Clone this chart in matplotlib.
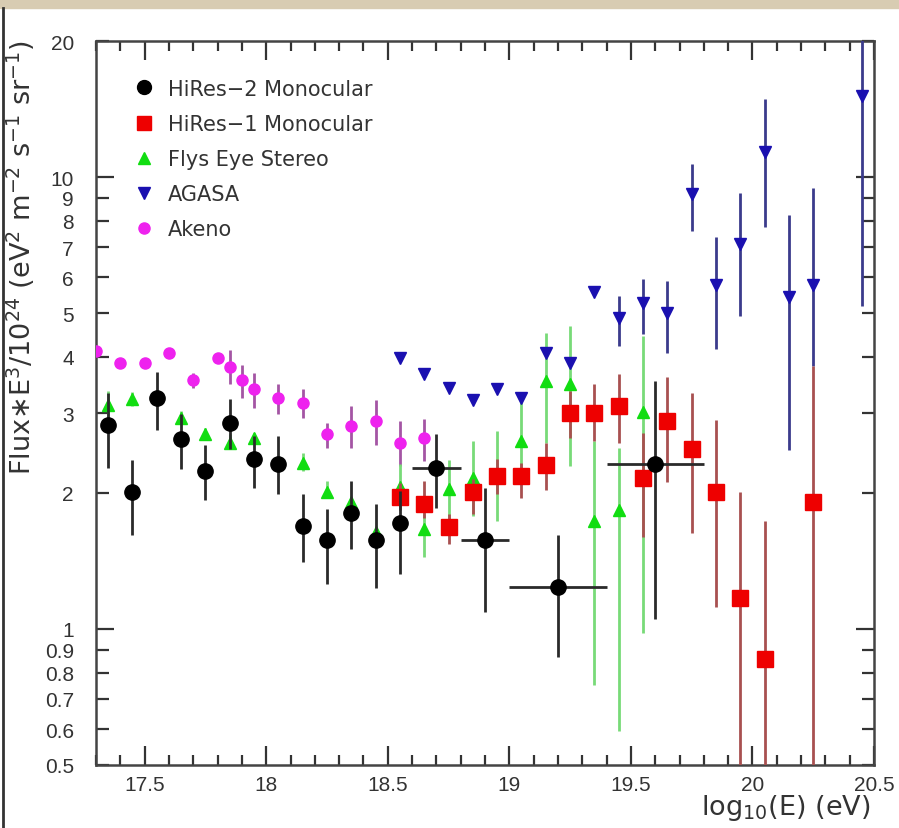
import matplotlib
matplotlib.use("Agg")
import matplotlib.pyplot as plt
from matplotlib.lines import Line2D
from matplotlib.patches import Rectangle
from matplotlib.ticker import FixedLocator, FixedFormatter
import numpy as np

# ---------------- data ----------------
hires2_x = [17.35, 17.45, 17.55, 17.65, 17.75, 17.85, 17.95, 18.05, 18.15, 18.25, 18.35, 18.45, 18.55,
            18.70, 18.90, 19.20, 19.60]
hires2_y = [2.83, 2.01, 3.24, 2.63, 2.24, 2.86, 2.38, 2.32, 1.69, 1.57, 1.81, 1.57, 1.72,
            2.27, 1.57, 1.24, 2.32]
hires2_lo = [2.27, 1.61, 2.76, 2.26, 1.93, 2.50, 2.05, 1.99, 1.41, 1.26, 1.50, 1.23, 1.32,
             1.85, 1.09, 0.867, 1.05]
hires2_hi = [3.33, 2.37, 3.70, 2.99, 2.55, 3.23, 2.67, 2.67, 1.99, 1.84, 2.12, 1.89, 2.02,
             2.70, 2.05, 1.61, 3.54]
hires2_xerr = [0, 0, 0, 0, 0, 0, 0, 0, 0, 0, 0, 0, 0, 0.1, 0.1, 0.2, 0.2]

hires1_x = [18.55, 18.65, 18.75, 18.85, 18.95, 19.05, 19.15, 19.25, 19.35, 19.45, 19.55, 19.65,
            19.75, 19.85, 19.95, 20.05, 20.25]
hires1_y = [1.96, 1.89, 1.68, 2.01, 2.18, 2.18, 2.30, 3.00, 3.00, 3.11, 2.16, 2.89,
            2.50, 2.01, 1.17, 0.86, 1.905]
hires1_lo = [1.83, 1.76, 1.54, 1.80, 1.99, 1.95, 2.03, 2.65, 2.61, 2.58, 1.60, 2.11,
             1.63, 1.12, 0.30, 0.30, 0.30]
hires1_hi = [2.10, 2.13, 1.80, 2.15, 2.38, 2.33, 2.58, 3.36, 3.48, 3.66, 2.72, 3.61,
             3.32, 2.90, 2.01, 1.73, 3.82]

flys_x = [17.35, 17.45, 17.65, 17.75, 17.85, 17.95, 18.15, 18.25, 18.35, 18.45, 18.55, 18.65,
          18.75, 18.85, 18.95, 19.05, 19.15, 19.25, 19.35, 19.45, 19.55]
flys_y = [3.13, 3.23, 2.93, 2.70, 2.58, 2.64, 2.33, 2.01, 1.91, 1.64, 2.06, 1.66,
          2.04, 2.16, 2.18, 2.61, 3.54, 3.48, 1.73, 1.83, 3.02]
flys_lo = [2.92, 3.12, 2.84, 2.62, 2.52, 2.56, 2.24, 1.95, 1.87, 1.61, 1.87, 1.44,
           1.65, 1.78, 1.73, 2.09, 2.58, 2.29, 0.75, 0.595, 0.98]
flys_hi = [3.36, 3.35, 3.04, 2.78, 2.70, 2.72, 2.45, 2.12, 1.95, 1.68, 2.32, 1.80,
           2.37, 2.60, 2.74, 3.25, 4.52, 4.67, 2.60, 2.51, 4.45]

agasa_x = [18.55, 18.65, 18.75, 18.85, 18.95, 19.05, 19.15, 19.25, 19.35, 19.45, 19.55, 19.65,
           19.75, 19.85, 19.95, 20.05, 20.15, 20.25, 20.45]
agasa_y = [3.97, 3.67, 3.41, 3.21, 3.39, 3.25, 4.09, 3.88, 5.57, 4.88, 5.27, 5.01,
           9.19, 5.77, 7.12, 11.36, 5.43, 5.78, 15.1]
agasa_lo = [3.97, 3.67, 3.41, 3.21, 3.39, 3.25, 4.09, 3.88, 5.57, 4.23, 4.49, 4.09,
            7.60, 4.17, 4.93, 7.77, 2.49, 3.82, 5.18]
agasa_hi = [3.97, 3.67, 3.41, 3.21, 3.39, 3.25, 4.09, 3.88, 5.57, 5.46, 5.95, 5.89,
            10.7, 7.38, 9.24, 14.9, 8.25, 9.44, 30.0]

akeno_x = [17.30, 17.40, 17.50, 17.60, 17.70, 17.80, 17.85, 17.90, 17.95, 18.05, 18.15, 18.25,
           18.35, 18.45, 18.55, 18.65]
akeno_y = [4.12, 3.88, 3.88, 4.07, 3.55, 3.97, 3.80, 3.55, 3.39, 3.24, 3.17, 2.70,
           2.81, 2.88, 2.58, 2.64]
akeno_lo = [4.12, 3.88, 3.88, 4.07, 3.41, 3.97, 3.48, 3.25, 3.08, 2.99, 2.93, 2.52,
            2.52, 2.55, 2.29, 2.35]
akeno_hi = [4.12, 3.88, 3.88, 4.07, 3.69, 3.97, 4.14, 3.84, 3.69, 3.49, 3.40, 2.86,
            3.11, 3.21, 2.89, 2.92]

labels = ["HiRes\u22122 Monocular", "HiRes\u22121 Monocular", "Flys Eye Stereo", "AGASA", "Akeno"]

y_major = [1, 10]
y_minor = [0.5, 0.6, 0.7, 0.8, 0.9, 2, 3, 4, 5, 6, 7, 8, 9, 20]
x_major = [17.5, 18.0, 18.5, 19.0, 19.5, 20.0, 20.5]
x_major_labels = ["17.5", "18", "18.5", "19", "19.5", "20", "20.5"]

# ---------------- figure ----------------
fig = plt.figure(figsize=(8.99, 8.29), dpi=100)
ax = fig.add_axes([96 / 899, 1 - 766 / 829, 778 / 899, 724 / 829])


def yerr(y, lo, hi):
    y = np.asarray(y); lo = np.asarray(lo); hi = np.asarray(hi)
    return [y - lo, hi - y]


common = dict(ls="none", elinewidth=2.0, capsize=0)

ax.errorbar(akeno_x, akeno_y, yerr=yerr(akeno_y, akeno_lo, akeno_hi), marker="o", ms=8,
            mfc="#ee22ee", mec="#ee22ee", ecolor="#a455a4", zorder=3, **common)
ax.errorbar(flys_x, flys_y, yerr=yerr(flys_y, flys_lo, flys_hi), marker="^", ms=8,
            mfc="#11dd11", mec="#11dd11", ecolor="#78da78", zorder=3, **common)
ax.errorbar(agasa_x, agasa_y, yerr=yerr(agasa_y, agasa_lo, agasa_hi), marker="v", ms=9,
            mfc="#1a10b0", mec="#1a10b0", ecolor="#3b3b8c", zorder=4, **common)
ax.errorbar(hires1_x, hires1_y, yerr=yerr(hires1_y, hires1_lo, hires1_hi), marker="s", ms=11,
            mfc="#ee0000", mec="#ee0000", ecolor="#a85050", zorder=5, **common)
ax.errorbar(hires2_x, hires2_y, xerr=hires2_xerr, yerr=yerr(hires2_y, hires2_lo, hires2_hi),
            marker="o", ms=11, mfc="black", mec="black", ecolor="#2a2a2a", zorder=6, **common)

ax.set_yscale("log")
ax.set_xlim(17.3, 20.5)
ax.set_ylim(0.5, 20)

ax.yaxis.set_major_locator(FixedLocator(y_major))
ax.yaxis.set_major_formatter(FixedFormatter([str(v) for v in y_major]))
ax.yaxis.set_minor_locator(FixedLocator(y_minor))
ax.yaxis.set_minor_formatter(FixedFormatter([("%g" % v) for v in y_minor]))
ax.xaxis.set_major_locator(FixedLocator(x_major))
ax.xaxis.set_major_formatter(FixedFormatter(x_major_labels))
ax.xaxis.set_minor_locator(FixedLocator(np.round(np.arange(17.3, 20.55, 0.1), 2)))

tickfont = "Liberation Sans"
ax.tick_params(which="both", direction="in", top=True, right=True, colors="#333333",
               labelcolor="#333333", width=1.6)
ax.tick_params(axis="y", which="major", length=13, pad=16, labelsize=15)
ax.tick_params(axis="y", which="minor", length=9, pad=16, labelsize=15)
ax.tick_params(axis="x", which="major", length=14, pad=7, labelsize=15)
ax.tick_params(axis="x", which="minor", length=7)
for lab in ax.get_xticklabels() + ax.get_yticklabels() + ax.get_yticklabels(minor=True):
    lab.set_fontfamily(tickfont)
for s in ax.spines.values():
    s.set_linewidth(1.8)
    s.set_color("#444444")

# legend
handles = [
    Line2D([], [], ls="none", marker="o", ms=10, mfc="black", mec="black"),
    Line2D([], [], ls="none", marker="s", ms=10, mfc="#ee0000", mec="#ee0000"),
    Line2D([], [], ls="none", marker="^", ms=8, mfc="#11dd11", mec="#11dd11"),
    Line2D([], [], ls="none", marker="v", ms=8, mfc="#1a10b0", mec="#1a10b0"),
    Line2D([], [], ls="none", marker="o", ms=8, mfc="#ee22ee", mec="#ee22ee"),
]
leg = ax.legend(handles, labels, loc="upper left", bbox_to_anchor=(0.048, 0.948), frameon=False,
                handlelength=1.0, handletextpad=0.65, labelspacing=0.73, borderpad=0,
                borderaxespad=0, prop={"family": "DejaVu Sans", "size": 15})
for t in leg.get_texts():
    t.set_color("#333333")

# axis labels
fig.text(21 / 899, 1 - 258 / 829,
         r"Flux$\ast$E$^{3}$/10$^{24}$ (eV$^{2}$ m$^{-2}$ s$^{-1}$ sr$^{-1}$)",
         rotation=90, ha="center", va="center", fontsize=19.5, color="#333333",
         family="DejaVu Sans")
fig.text(870 / 899, 1 - 808 / 829, r"log$_{10}$(E) (eV)", ha="right", va="center",
         fontsize=19.5, color="#333333", family="DejaVu Sans")

# decorative frame pieces of the scanned figure
fig.add_artist(Rectangle((0, 1 - 9 / 829), 1, 9 / 829, transform=fig.transFigure,
                         color="#d8ccb2", zorder=0))
fig.add_artist(Line2D([2.5 / 899, 2.5 / 899], [0, 1 - 9 / 829], transform=fig.transFigure,
                      color="#333333", lw=2))

fig.savefig("out.png", dpi=100)
